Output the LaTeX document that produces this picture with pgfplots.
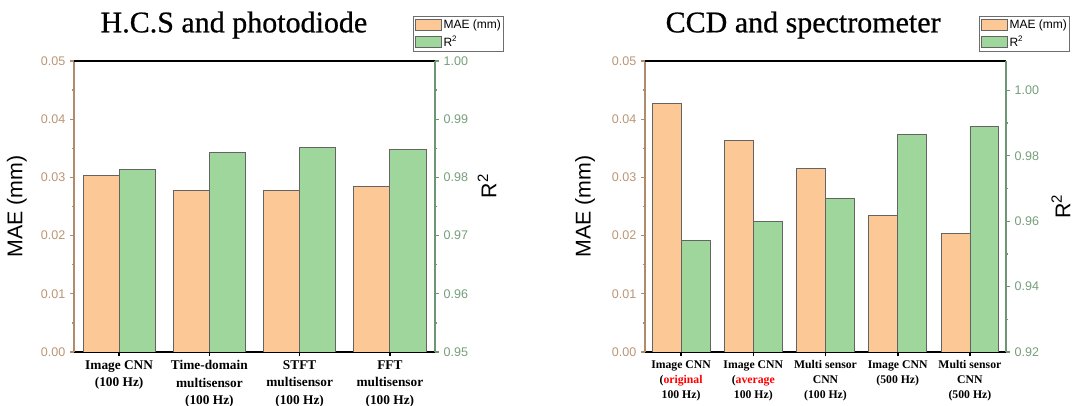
\documentclass[border=0pt]{standalone}
\usepackage{fontspec}
\setmainfont{Liberation Sans}
\newfontfamily\lserif{Liberation Serif}
\newfontfamily\titleserif[FakeBold=0.7]{Liberation Serif}
\usepackage{pgfplots}
\pgfplotsset{compat=1.18}

\definecolor{maefill}{RGB}{252,200,150}
\definecolor{r2fill}{RGB}{158,214,156}
\definecolor{edge}{RGB}{100,100,100}
\definecolor{maeaxis}{RGB}{176,140,108}
\definecolor{maetick}{RGB}{186,150,118}
\definecolor{r2axis}{RGB}{110,150,114}
\definecolor{r2tick}{RGB}{118,158,122}
\definecolor{leggray}{RGB}{110,110,110}

\pgfplotsset{
  panel/.style={
    scale only axis, width=270.75pt, height=218.25pt,
    enlargelimits=false, anchor=south west,
    tick align=outside, major tick length=3pt, minor tick length=1.8pt,
    minor y tick num=1, scaled y ticks=false,
    yticklabel style={font=\fontsize{9.4}{10}\selectfont,
      /pgf/number format/fixed, /pgf/number format/fixed zerofill,
      /pgf/number format/precision=2,
      /pgf/number format/assume math mode=true},
    ylabel style={font=\fontsize{16}{18}\selectfont, anchor=center},
    title style={font=\titleserif\fontsize{22.5}{26}\selectfont, anchor=base, yshift=15.5pt},
  },
  maeax/.style={panel,
    axis y line*=left, axis x line*=bottom,
    ymin=0, ymax=0.05, ytick={0,0.01,0.02,0.03,0.04,0.05},
    y axis line style={draw=maeaxis, line width=1.5pt, -},
    x axis line style={black, line width=1.8pt, -},
    ytick style={draw=maeaxis, line width=1pt},
    xtick style={black, line width=1.2pt},
    yticklabel style={text=maetick},
    ylabel={MAE (mm)},
  },
  r2ax/.style={panel,
    axis y line*=right, axis x line*=top, xtick=\empty,
    y axis line style={draw=r2axis, line width=1.5pt, -},
    x axis line style={black, line width=1.8pt, -},
    ytick style={draw=r2axis, line width=1pt},
    yticklabel style={text=r2tick},
    ylabel={R\textsuperscript{2}},
    legend cell align=left,
    legend image code/.code={\draw[#1, line width=0.6pt] (0pt,-4.25pt) rectangle (20pt,4.25pt);},
    legend style={anchor=north west, draw=leggray, line width=0.7pt,
      font=\fontsize{9}{10}\selectfont, inner xsep=1pt, inner ysep=1.5pt,
      row sep=2pt, nodes={inner sep=1pt}},
  },
}

\begin{document}
\begin{tikzpicture}
\useasboundingbox (0,0) rectangle (813pt,304.5pt);

% ---- left panel: H.C.S and photodiode
\begin{axis}[maeax, at={(55.5pt,40.5pt)},
  xmin=-0.5, xmax=3.5, xtick={0,1,2,3},
  xticklabels={{Image CNN\\(100 Hz)},{Time-domain\\multisensor\\(100 Hz)},
    {STFT\\multisensor\\(100 Hz)},{FFT\\multisensor\\(100 Hz)}},
  xticklabel style={align=center, font=\lserif\bfseries\fontsize{10}{13}\selectfont},
  ylabel style={at={(rel axis cs:-0.158,0.5)}},
  title={H.C.S and photodiode}, title style={at={(rel axis cs:0.443,1)}},
]
  \addplot[ybar, bar width=0.4, bar shift=-0.2, fill=maefill, draw=edge, line width=0.6pt]
    coordinates {(0,0.0303) (1,0.0278) (2,0.0278) (3,0.0285)};
\end{axis}
\begin{axis}[r2ax, at={(55.5pt,40.5pt)},
  xmin=-0.5, xmax=3.5,
  ymin=0.95, ymax=1.0, ytick={0.95,0.96,0.97,0.98,0.99,1.00},
  ylabel style={at={(rel axis cs:1.144,0.57)}},
  legend style={at={(rel axis cs:0.939,1.1546)}},
]
  \addlegendimage{fill=maefill, draw=edge}
  \addlegendentry{MAE (mm)}
  \addplot[ybar, bar width=0.4, bar shift=0.2, fill=r2fill, draw=edge, line width=0.6pt]
    coordinates {(0,0.9814) (1,0.9843) (2,0.9851) (3,0.9848)};
  \addlegendentry{R\textsuperscript{2}}
\end{axis}

% ---- right panel: CCD and spectrometer
\begin{axis}[maeax, at={(483.75pt,40.5pt)},
  xmin=-0.5, xmax=4.5, xtick={0,1,2,3,4},
  xticklabels={{Image CNN\\(\textcolor{red}{original}\\100 Hz)},
    {Image CNN\\(\textcolor{red}{average}\\100 Hz)},
    {Multi sensor\\CNN\\(100 Hz)},{Image CNN\\(500 Hz)},
    {Multi sensor\\CNN\\(500 Hz)}},
  xticklabel style={align=center, font=\lserif\bfseries\fontsize{8.8}{11.25}\selectfont},
  ylabel style={at={(rel axis cs:-0.166,0.5)}},
  title={CCD and spectrometer}, title style={at={(rel axis cs:0.438,1)}},
]
  \addplot[ybar, bar width=0.4, bar shift=-0.2, fill=maefill, draw=edge, line width=0.6pt]
    coordinates {(0,0.0427) (1,0.0364) (2,0.0315) (3,0.0234) (4,0.0204)};
\end{axis}
\begin{axis}[r2ax, at={(483.75pt,40.5pt)},
  xmin=-0.5, xmax=4.5,
  ymin=0.92, ymax=1.009, ytick={0.92,0.94,0.96,0.98,1.00},
  ylabel style={at={(rel axis cs:1.152,0.5)}},
  legend style={at={(rel axis cs:0.925,1.1546)}},
]
  \addlegendimage{fill=maefill, draw=edge}
  \addlegendentry{MAE (mm)}
  \addplot[ybar, bar width=0.4, bar shift=0.2, fill=r2fill, draw=edge, line width=0.6pt]
    coordinates {(0,0.9540) (1,0.9598) (2,0.9670) (3,0.9864) (4,0.9889)};
  \addlegendentry{R\textsuperscript{2}}
\end{axis}
\end{tikzpicture}
\end{document}
